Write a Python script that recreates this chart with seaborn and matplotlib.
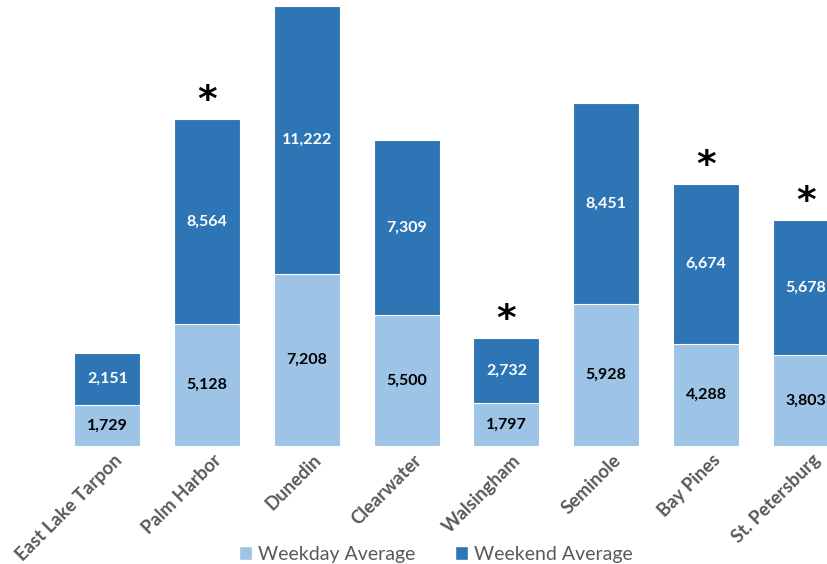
import matplotlib
matplotlib.use("Agg")
import matplotlib.pyplot as plt
import matplotlib.transforms as mtransforms
import seaborn as sns
import pandas as pd
from matplotlib.patches import Patch

branches = ["East Lake Tarpon", "Palm Harbor", "Dunedin", "Clearwater",
            "Walsingham", "Seminole", "Bay Pines", "St. Petersburg"]
weekday = [1729, 5128, 7208, 5500, 1797, 5928, 4288, 3803]
weekend = [2151, 8564, 11222, 7309, 2732, 8451, 6674, 5678]
flagged = [False, True, False, False, True, False, True, True]

light = "#9DC3E6"
dark = "#2E75B6"

sns.set_theme(style="white")
plt.rcParams["font.family"] = ["Lato", "DejaVu Sans"]

df = pd.DataFrame({"branch": branches, "weekday": weekday, "weekend": weekend})
df["total"] = df["weekday"] + df["weekend"]

fig = plt.figure(figsize=(8.27, 5.64), dpi=100)
ax = fig.add_axes([57.5 / 827, 118 / 564, 798 / 827, 440 / 564])

sns.barplot(data=df, x="branch", y="total", color=dark, width=0.66,
            edgecolor="white", linewidth=0.8, ax=ax, saturation=1)
sns.barplot(data=df, x="branch", y="weekday", color=light, width=0.66,
            edgecolor="white", linewidth=0.8, ax=ax, saturation=1)

ax.set_xlim(-0.5, len(branches) - 0.5)
ax.set_ylim(0, df["total"].max())
ax.set_xlabel("")
ax.set_ylabel("")
ax.set_yticks([])
for s in ax.spines.values():
    s.set_visible(False)

for i, (wd, we) in enumerate(zip(weekday, weekend)):
    ax.text(i, wd / 2, f"{wd:,}", ha="center", va="center",
            fontsize=11.5, fontweight="bold", color="black")
    ax.text(i, wd + we / 2, f"{we:,}", ha="center", va="center",
            fontsize=11.5, fontweight="bold", color="white")
    if flagged[i]:
        ax.annotate("*", (i, wd + we), xytext=(0, 0), textcoords="offset points",
                    ha="center", va="bottom", fontsize=27, fontweight="bold",
                    color="black", family="DejaVu Sans")

ax.tick_params(axis="x", length=0, pad=4)
ax.set_xticks(range(len(branches)))
ax.set_xticklabels(branches, rotation=45, ha="right", rotation_mode="anchor",
                   fontsize=13.3, fontweight="bold", color="#595959")
offset = mtransforms.ScaledTranslation(6 / 100, 0, fig.dpi_scale_trans)
for lbl in ax.get_xticklabels():
    lbl.set_transform(lbl.get_transform() + offset)

handles = [Patch(facecolor=light, label="Weekday Average"),
           Patch(facecolor=dark, label="Weekend Average")]
fig.legend(handles=handles, loc="center", bbox_to_anchor=(0.527, 0.017), ncol=2,
           frameon=False, fontsize=14, handlelength=0.7, handleheight=0.7,
           handletextpad=0.3, columnspacing=2.0, labelcolor="#595959")

fig.savefig("out.png", dpi=100)
